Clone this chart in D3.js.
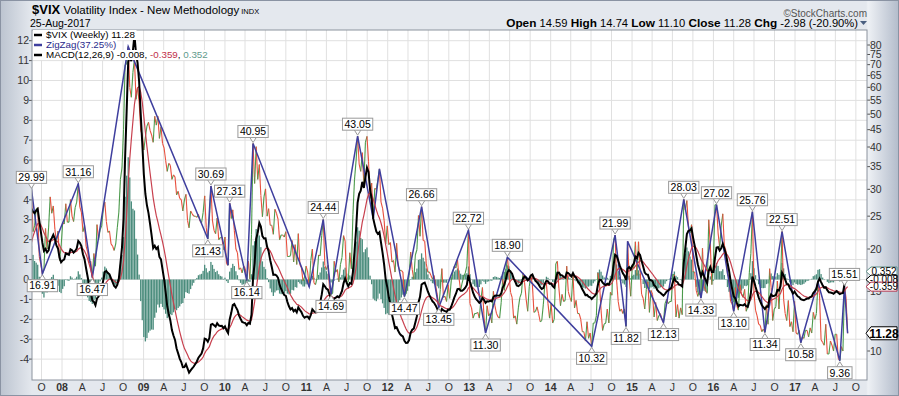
<!DOCTYPE html>
<html>
<head>
<meta charset="utf-8">
<script src="https://cdn.jsdelivr.net/npm/d3@7/dist/d3.min.js"></script>
<style>
  body { margin: 0; }
  svg { display: block; font-family: Arial, "Liberation Sans", sans-serif; }
</style>
</head>
<body>
<svg id="chart" width="899" height="396"></svg>
<script>
// weekly closes of $VIX, one array per year (one value per Friday)
let vix2007 = [12.1,10.2,10.4,11.1, 10.1,11.1,10.0,11.2, 18.6,14.4,16.8,12.7,14.6, 12.8,12.2,12.1,12.5, 12.9,12.8,12.9,13.0, 12.9,14.2,13.3,16.4,16.2, 14.6,15.4,17.3,24.2, 25.2,28.5,29.99,22.5,23.4, 26.2,26.5,19.0,18.0, 16.91,17.4,23.0,20.0, 23.2,28.5,25.5,26.8,22.9, 21.0,22.6,18.5,20.3];
let vix2008 = [23.9,23.7,27.2,24.0, 24.0,28.0,25.0,24.1,26.5, 27.5,31.16,26.6,25.7, 22.5,23.5,20.4,19.6, 18.2,18.4,16.47,19.4,17.8, 23.6,21.3,22.8,23.4, 26.2,27.5,24.1,22.4, 22.6,20.7,20.4,19.8,20.7, 23.1,25.7,32.1,34.7, 45.1,69.95,70.3,79.13,59.9, 56.1,66.3,72.7,55.3, 59.9,54.3,44.9,43.4];
let vix2009 = [39.2,42.8,46.1,47.3,44.8, 43.4,41.3,49.3,46.4, 49.3,42.4,45.9,41.0, 39.7,36.5,33.9,35.8, 35.3,32.1,33.1,32.6,28.9, 29.6,28.2,28.0,25.9, 27.9,29.0,24.3,23.1,25.9, 25.4,25.0,25.0,24.8, 25.3,24.2,23.9,25.6, 28.7,23.1,21.43,24.5,30.69, 24.2,22.7,22.2,24.7, 21.3,21.6,21.7,19.9];
let vix2010 = [21.7,18.1,17.91,27.31,24.6, 26.1,22.7,20.0,19.5, 17.4,17.6,17.0,17.8, 17.5,16.14,18.4,16.3,22.1, 40.95,31.2,40.1,32.1, 35.5,28.8,24.9,28.5, 30.1,25.0,26.3,23.5,23.5, 22.1,26.2,25.5,24.5, 21.3,22.0,22.0,21.7, 22.5,19.0,19.0,19.1,21.2, 18.3,20.6,18.0,22.2, 18.0,17.6,16.1,16.5,17.8];
let vix2011 = [17.1,15.46,18.5,20.0, 15.9,15.7,16.4,19.2, 19.1,21.9,24.44,17.9, 17.4,17.9,15.3,14.69,14.8, 18.4,17.1,17.4,16.0, 18.0,18.9,21.9,21.1, 15.9,16.0,19.5,17.5,25.3, 32.0,36.4,43.05,35.6, 33.9,38.5,31.0,41.3,43.0, 36.3,28.2,31.3,24.53, 30.2,30.0,32.0,34.47, 27.5,26.4,24.3,20.7,23.4];
let vix2012 = [20.6,20.9,18.3,18.5, 17.1,20.8,17.8,17.3, 17.3,17.1,14.47,14.8,15.5, 16.7,19.6,17.4,16.3, 19.2,19.9,25.1,21.8, 26.66,21.2,21.1,18.1,17.1, 17.1,16.7,16.3,16.7, 15.6,14.7,13.45,15.2,17.5, 14.4,14.5,14.0,15.7, 14.3,16.1,17.1,17.8, 17.6,18.6,16.4,15.1,15.9, 16.6,17.0,17.8,22.72];
let vix2013 = [13.8,13.4,12.5,12.9, 12.9,13.0,12.5,14.2, 15.4,12.6,11.30,13.6,12.7, 12.9,12.1,15.0,13.6, 12.9,12.6,12.5,13.9,16.3, 15.1,17.2,18.90,16.9, 14.9,14.4,12.5,12.7, 12.0,13.4,14.4,14.8,17.0, 15.9,14.2,13.1,15.5, 16.7,15.7,13.0,13.1, 13.5,12.9,12.2,12.3,13.7, 15.8,15.8,13.8,12.5];
let vix2014 = [13.8,12.1,12.4,18.1,18.4, 15.3,13.6,14.7,14.0, 14.1,17.8,15.0,14.4, 14.0,17.0,13.4,14.1, 12.9,12.9,12.4,11.4,11.4, 10.7,12.2,10.9,11.3, 10.32,12.1,12.1,12.7, 17.0,15.8,13.2,11.5,12.0, 12.1,13.3,12.1,14.9, 14.6,21.2,21.99,16.1,14.0, 13.1,13.3,12.9,13.3, 11.82,21.08,16.5,14.5];
let vix2015 = [17.8,17.6,21.0,16.7,21.0, 17.3,14.7,14.3,13.3, 15.2,16.0,13.0,15.1, 14.7,12.6,13.9,12.3, 12.7,12.9,12.4,12.13,13.8, 14.2,13.8,14.0,14.0, 16.8,16.8,12.6,13.7,12.5, 13.4,12.8,28.03,26.1, 27.8,23.2,22.3,23.6, 17.1,17.1,15.1,14.5,15.1, 14.33,20.1,15.5,15.1, 14.8,24.4,20.7,15.7];
let vix2016 = [18.2,27.0,27.02,22.3,20.2, 23.4,25.4,20.5,19.8, 16.9,16.5,14.0,13.8, 13.10,15.4,13.6,13.2,15.7, 14.7,14.4,15.2,13.1, 13.5,17.0,19.4,25.76, 14.8,13.2,12.7,12.0,11.9, 11.4,11.6,11.34,13.7, 12.0,17.5,15.4,12.3,13.3, 13.5,16.1,13.3,16.2, 22.51,14.2,12.9,12.3, 14.1,11.8,12.2,11.4,14.0];
let vix2017 = [11.3,11.2,11.5,10.58, 11.0,10.9,11.5,11.5, 11.0,11.7,11.3,13.0,12.4, 12.9,15.96,14.6,10.8, 10.6,10.4,12.0,9.8, 9.8,10.7,10.4,10.0,11.2, 11.2,9.5,9.36,10.3, 10.0,15.51,14.3,11.28];

let years = [2007, 2008, 2009, 2010, 2011, 2012, 2013, 2014, 2015, 2016, 2017];
let yearCloses = [vix2007, vix2008, vix2009, vix2010, vix2011, vix2012, vix2013, vix2014, vix2015, vix2016, vix2017];

// zigzag(37.25%) pivots as drawn on the chart
let pivotDates = ["2007-08-17","2007-10-05","2008-03-14","2008-05-16","2008-10-24","2009-10-16","2009-10-30","2010-01-15","2010-01-22","2010-04-09","2010-05-07","2011-01-14","2011-03-18","2011-04-22","2011-08-19","2011-10-28","2011-11-25","2012-03-16","2012-06-01","2012-08-17","2012-12-28","2013-03-15","2013-06-21","2014-07-04","2014-10-17","2014-12-05","2014-12-12","2015-05-22","2015-08-21","2015-11-06","2016-01-15","2016-04-01","2016-06-24","2016-08-19","2016-11-04","2017-01-27","2017-04-14","2017-07-21","2017-08-11","2017-08-25"];
let pivotValues = [29.99,16.91,31.16,16.47,79.13,21.43,30.69,17.91,27.31,16.14,40.95,15.46,24.44,14.69,43.05,24.53,34.47,14.47,26.66,13.45,22.72,11.30,18.90,10.32,21.99,11.82,21.08,12.13,28.03,14.33,27.02,13.10,25.76,11.34,22.51,10.58,15.96,9.36,15.51,11.28];
// 1 = the chart shows a value flag on this pivot
let pivotLabelled = [1,1,1,1,0,1,1,0,1,1,1,0,1,1,1,0,0,1,1,1,1,1,1,1,1,1,0,1,1,1,1,1,1,1,1,1,0,1,1,0];

// axes
let leftTicks = [-4,-3,-2,-1,0,1,2,3,4,5,6,7,8,9,10,11,12];
let rightTicks = [10,15,20,25,30,35,40,45,50,55,60,65,70,75,80];
let monthLetters = {3: "A", 6: "J", 9: "O"};

// header and legend texts
let headerQuote = [["Open", "14.59"], ["High", "14.74"], ["Low", "11.10"], ["Close", "11.28"], ["Chg", "-2.98 (-20.90%)"]];
let macdLegend = [-0.008, -0.359, 0.352];
let lastClose = 11.28;

let plot = {left: 32, right: 867, top: 30, bottom: 380};
let colUp = "#4c9a4c", colDown = "#e8503e", colZig = "#3f3f9e",
    colSignal = "#c8404e", colHist = "#4a8c7c";

let svg = d3.select("#chart");
let parse = d3.timeParse("%Y-%m-%d");

// build weekly series
let weekly = [];
years.forEach(function(yr, k) {
  let d = new Date(yr, 0, 1);
  while (d.getDay() !== 5) d = d3.timeDay.offset(d, 1);
  yearCloses[k].forEach(function(v, i) {
    weekly.push({date: d3.timeDay.offset(d, 7 * i), close: v});
  });
});

// MACD(12,26,9) study on the weekly closes
function ema(values, n) {
  let k = 2 / (n + 1), prev = values[0];
  return values.map(function(v, i) {
    prev = i === 0 ? v : v * k + prev * (1 - k);
    return prev;
  });
}
let closes = weekly.map(d => d.close);
let e12 = ema(closes, 12), e26 = ema(closes, 26);
let macd = e12.map((v, i) => v - e26[i]);
let signal = ema(macd, 9);
weekly.forEach(function(d, i) {
  d.macd = macd[i];
  d.signal = signal[i];
  d.hist = macd[i] - signal[i];
});
let shown = weekly.filter(d => d.date >= new Date(2007, 7, 10));

// scales
let x = d3.scaleTime()
  .domain([new Date(2008, 0, 1), new Date(2017, 0, 1)])
  .range([62, 795]);
let yL = d3.scaleLinear().domain([0, 12]).range([279.5, 40.7]);
let yR = d3.scaleLog().domain([10, 80]).range([351, 45]);

// background
let defs = svg.append("defs");
let bg = defs.append("linearGradient").attr("id", "bgGrad");
[["0%", "#bcc4d0"], ["3.5%", "#e4e8ee"], ["96.4%", "#e4e8ee"], ["96.6%", "#eef1f5"], ["100%", "#b3bccb"]]
  .forEach(s => bg.append("stop").attr("offset", s[0]).attr("stop-color", s[1]));
defs.append("clipPath").attr("id", "plotClip")
  .append("rect")
  .attr("x", plot.left).attr("y", plot.top)
  .attr("width", plot.right - plot.left).attr("height", plot.bottom - plot.top);

svg.append("rect")
  .attr("x", 0.5).attr("y", 0.5).attr("width", 898).attr("height", 395)
  .style("fill", "url(#bgGrad)")
  .style("stroke", "#8a93a3");

svg.append("rect")
  .attr("x", plot.left).attr("y", plot.top)
  .attr("width", plot.right - plot.left).attr("height", plot.bottom - plot.top)
  .style("fill", "#fff");

// grid
let quarters = d3.timeMonth.every(3).range(new Date(2007, 9, 1), new Date(2017, 10, 1));
let grid = svg.append("g").attr("clip-path", "url(#plotClip)");
quarters.forEach(function(q) {
  grid.append("line")
    .attr("x1", x(q)).attr("x2", x(q))
    .attr("y1", plot.top).attr("y2", plot.bottom)
    .style("stroke", "#e0e0e0");
});
leftTicks.forEach(function(t) {
  grid.append("line")
    .attr("x1", plot.left).attr("x2", plot.right)
    .attr("y1", yL(t)).attr("y2", yL(t))
    .style("stroke", "#e0e0e0");
});

// left axis
leftTicks.forEach(function(t) {
  svg.append("line")
    .attr("x1", plot.left - 3).attr("x2", plot.left)
    .attr("y1", yL(t)).attr("y2", yL(t))
    .style("stroke", "#555");
  svg.append("text")
    .attr("x", plot.left - 3).attr("y", yL(t)).attr("dy", "0.35em")
    .text(t)
    .style("font-size", "10.5px").style("fill", "#333")
    .style("text-anchor", "end");
});

// right axis (log)
rightTicks.forEach(function(t) {
  svg.append("line")
    .attr("x1", plot.right).attr("x2", plot.right + 3)
    .attr("y1", yR(t)).attr("y2", yR(t))
    .style("stroke", "#555");
  svg.append("text")
    .attr("x", plot.right + 3).attr("y", yR(t)).attr("dy", "0.35em")
    .text(t)
    .style("font-size", "10.5px").style("fill", "#333");
});

// bottom axis
quarters.forEach(function(q) {
  let m = q.getMonth();
  svg.append("text")
    .attr("x", x(q)).attr("y", 387).attr("dy", "0.35em")
    .text(m === 0 ? d3.timeFormat("%y")(q) : monthLetters[m])
    .style("font-size", "10.5px").style("fill", "#333")
    .style("font-weight", m === 0 ? "bold" : "normal")
    .style("text-anchor", "middle");
});

let marks = svg.append("g").attr("clip-path", "url(#plotClip)");

// MACD histogram
marks.selectAll(".hist")
  .data(shown)
  .enter().append("rect")
  .attr("x", d => x(d.date) - 0.65)
  .attr("width", 1.3)
  .attr("y", d => Math.min(yL(0), yL(d.hist)))
  .attr("height", d => Math.abs(yL(d.hist) - yL(0)))
  .style("fill", colHist);

// price line, segment colour by weekly direction
for (let i = 1; i < shown.length; i++) {
  let a = shown[i - 1], b = shown[i];
  marks.append("line")
    .attr("x1", x(a.date)).attr("y1", yR(a.close))
    .attr("x2", x(b.date)).attr("y2", yR(b.close))
    .style("stroke", b.close >= a.close ? colUp : colDown)
    .style("stroke-width", 1.1);
}

// zigzag
let pivots = pivotDates.map((d, i) => ({date: parse(d), value: pivotValues[i], label: pivotLabelled[i]}));
marks.append("path")
  .datum(pivots)
  .attr("d", d3.line().x(d => x(d.date)).y(d => yR(d.value)))
  .style("fill", "none")
  .style("stroke", colZig)
  .style("stroke-width", 1.5);

// signal and MACD lines
marks.append("path")
  .datum(shown)
  .attr("d", d3.line().x(d => x(d.date)).y(d => yL(d.signal)))
  .style("fill", "none")
  .style("stroke", colSignal)
  .style("stroke-width", 1.2);
marks.append("path")
  .datum(shown)
  .attr("d", d3.line().x(d => x(d.date)).y(d => yL(d.macd)))
  .style("fill", "none")
  .style("stroke", "#000")
  .style("stroke-width", 2);

// plot border
svg.append("rect")
  .attr("x", plot.left).attr("y", plot.top)
  .attr("width", plot.right - plot.left).attr("height", plot.bottom - plot.top)
  .style("fill", "none").style("stroke", "#8c939e");

// zigzag pivot flags
pivots.forEach(function(p, i) {
  if (!p.label) return;
  let prev = pivots[i - 1], next = pivots[i + 1];
  let isPeak = (prev ? p.value > prev.value : p.value > next.value);
  let px = x(p.date), py = yR(p.value);
  let g = svg.append("g");
  let t = g.append("text")
    .attr("x", px)
    .text(p.value.toFixed(2))
    .style("font-size", "10.5px")
    .style("text-anchor", "middle");
  let w = t.node().getComputedTextLength() + 4, h = 12;
  let by = isPeak ? py - 6 - h : py + 6;
  let tip = isPeak ? py - 1 : py + 1;
  let edge = isPeak ? py - 6.5 : py + 6.5;
  g.insert("path", "text")
    .attr("d", "M" + (px - 3.5) + "," + edge + "L" + px + "," + tip + "L" + (px + 3.5) + "," + edge + "Z")
    .style("fill", "#fff").style("stroke", "#9a9a9a");
  g.insert("rect", "text")
    .attr("x", px - w / 2).attr("y", by).attr("width", w).attr("height", h)
    .style("fill", "#fff").style("stroke", "#9a9a9a");
  t.attr("y", by + h / 2).attr("dy", "0.36em");
});

// right side value tags
function valueTag(y, label, stroke, bold) {
  let g = svg.append("g");
  let h = bold ? 13 : 9;
  g.append("path")
    .attr("d", "M" + 866 + "," + y + "L" + 871 + "," + (y - h / 2) + "L" + 897 + "," + (y - h / 2)
      + "L" + 897 + "," + (y + h / 2) + "L" + 871 + "," + (y + h / 2) + "Z")
    .style("fill", "#fff").style("stroke", stroke);
  g.append("text")
    .attr("x", 884).attr("y", y).attr("dy", "0.36em")
    .text(label)
    .style("font-size", bold ? "12px" : "10px")
    .style("font-weight", bold ? "bold" : "normal")
    .style("text-anchor", "middle");
}
valueTag(yL(macdLegend[2]) - 1, macdLegend[2].toFixed(3), "#5f8f86", false);
valueTag(yL(macdLegend[0]), macdLegend[0].toFixed(3), "#000", false);
valueTag(yL(macdLegend[1]), macdLegend[1].toFixed(3), "#b0304a", false);
valueTag(yR(lastClose), lastClose.toFixed(2), "#000", true);

// legend rows
function legendRow(y, parts, dashColor) {
  let g = svg.append("g");
  let back = g.append("rect").style("fill", "#fff");
  g.append("line")
    .attr("x1", 34).attr("x2", 42).attr("y1", y).attr("y2", y)
    .style("stroke", dashColor).style("stroke-width", 2.5);
  let t = g.append("text")
    .attr("x", 46).attr("y", y).attr("dy", "0.35em")
    .style("font-size", "9.8px");
  parts.forEach(p => t.append("tspan").style("fill", p[1]).text(p[0]));
  let b = g.node().getBBox();
  back.attr("x", plot.left + 1).attr("y", y - 5).attr("width", b.x + b.width - plot.left).attr("height", 10);
}
legendRow(35, [["$VIX (Weekly) " + lastClose.toFixed(2), "#000"]], "#000");
legendRow(45, [["ZigZag(37.25%)", "#2a2a8c"]], colZig);
legendRow(55, [["MACD(12,26,9) " + macdLegend[0].toFixed(3) + ", ", "#000"],
  [macdLegend[1].toFixed(3), "#c0304a"], [", ", "#000"], [macdLegend[2].toFixed(3), "#5f9a8c"]], "#000");

// header
let head = svg.append("text").attr("x", 32).attr("y", 14);
head.append("tspan").text("$VIX").style("font-weight", "bold").style("font-size", "13px");
head.append("tspan").text(" Volatility Index - New Methodology").style("font-size", "11.5px");
head.append("tspan").text("  INDX").style("font-size", "7.5px");
svg.append("text")
  .attr("x", 30).attr("y", 27)
  .text("25-Aug-2017")
  .style("font-size", "10.5px");

svg.append("text")
  .attr("x", 867).attr("y", 17)
  .text("\u00a9StockCharts.com")
  .style("font-size", "10px").style("fill", "#555")
  .style("text-anchor", "end");

let quote = svg.append("text").attr("x", 858).attr("y", 27).style("text-anchor", "end");
headerQuote.forEach(function(q, i) {
  quote.append("tspan").text((i ? "  " : "") + q[0]).style("font-weight", "bold").style("font-size", "11.8px");
  quote.append("tspan").text(" " + q[1]).style("font-size", "11.2px");
});
svg.append("path")
  .attr("d", "M860,21L867,21L863.5,25Z")
  .style("fill", "#4a5f80");
</script>
</body>
</html>
